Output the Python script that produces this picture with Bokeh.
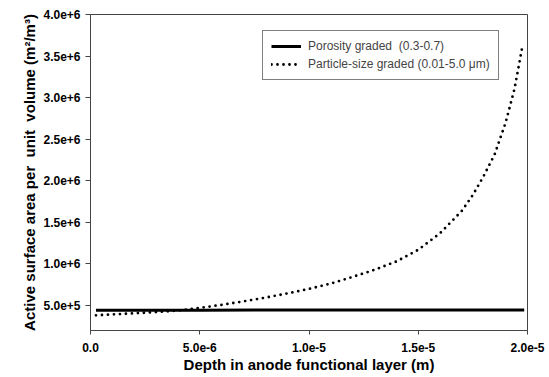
from bokeh.plotting import figure
from bokeh.models import Range1d, FixedTicker, CustomJSTickFormatter, Legend, LegendItem, Title
from bokeh.embed import file_html
from bokeh.resources import INLINE

# Depth (m) and active surface area per unit volume (m^2/m^3)
porosity_x = [0.25e-6, 5.0e-6, 10.0e-6, 15.0e-6, 19.85e-6]
porosity_y = [4.45e5, 4.45e5, 4.46e5, 4.46e5, 4.46e5]

particle_x = [0.25e-6, 1e-6, 2e-6, 3e-6, 4e-6, 5e-6, 6e-6, 7e-6, 8e-6, 9e-6,
              10e-6, 11e-6, 12e-6, 13e-6, 14e-6, 15e-6, 16e-6, 17e-6, 17.5e-6,
              18e-6, 18.5e-6, 19e-6, 19.4e-6, 19.6e-6, 19.76e-6]
particle_y = [3.83e5, 3.93e5, 4.07e5, 4.22e5, 4.40e5, 4.72e5, 5.08e5, 5.50e5, 5.95e5, 6.45e5,
              7.00e5, 7.65e5, 8.45e5, 9.30e5, 1.03e6, 1.17e6, 1.37e6, 1.64e6, 1.83e6,
              2.06e6, 2.32e6, 2.70e6, 3.10e6, 3.38e6, 3.61e6]

x_ticks = [0.0, 5.0e-6, 1.0e-5, 1.5e-5, 2.0e-5]
y_ticks = [5.0e5, 1.0e6, 1.5e6, 2.0e6, 2.5e6, 3.0e6, 3.5e6, 4.0e6]

series_labels = ["Porosity graded  (0.3-0.7)", "Particle-size graded (0.01-5.0 \u03bcm)"]
x_title = "Depth in anode functional layer (m)"
y_title = "Active surface area per\u00a0\u00a0unit\u00a0\u00a0volume (m\u00b2/m\u00b3)"

FONT = "Liberation Sans"

p = figure(width=549, height=377, output_backend="svg", toolbar_location=None,
           x_range=Range1d(0, 2.0e-5), y_range=Range1d(2.0e5, 4.0e6),
           min_border_left=90, min_border_right=22, min_border_top=14, min_border_bottom=47)
p.grid.visible = False
p.outline_line_color = "#444444"
p.outline_line_width = 1
p.background_fill_color = "white"
p.border_fill_color = "white"

r1 = p.line(porosity_x, porosity_y, line_color="black", line_width=3)
r2 = p.line(particle_x, particle_y, line_color="black", line_width=2.8,
            line_dash="0 6", line_cap="round")

fmt = CustomJSTickFormatter(code="return tick === 0 ? '0.0' : tick.toExponential(1);")
for ax, ticks in ((p.xaxis[0], x_ticks), (p.yaxis[0], y_ticks)):
    ax.ticker = FixedTicker(ticks=ticks)
    ax.formatter = fmt
    ax.minor_tick_line_color = None
    ax.major_tick_in = 0
    ax.axis_line_color = "#444444"
    ax.major_tick_line_color = "#444444"
    ax.major_label_text_font = FONT
    ax.major_label_text_font_style = "bold"
    ax.major_label_text_font_size = "12px"
    ax.major_label_text_color = "black"
    ax.axis_label_text_font = FONT
    ax.axis_label_text_font_style = "bold"
    ax.axis_label_text_font_size = "15px"
    ax.axis_label_text_color = "black"

p.xaxis.axis_label = x_title
p.xaxis.major_tick_out = 4
p.xaxis.major_label_standoff = 8
p.xaxis.axis_label_standoff = 1
p.yaxis.major_tick_out = 5
p.yaxis.major_label_standoff = 5

ytitle = Title(text=y_title, align="center", text_font=FONT, text_font_style="bold",
               text_font_size="15px", text_color="black", standoff=5, offset=0)
p.add_layout(ytitle, "left")

legend = Legend(items=[LegendItem(label=series_labels[0], renderers=[r1]),
                       LegendItem(label=series_labels[1], renderers=[r2])],
                location=(172, 250))
legend.border_line_color = "black"
legend.border_line_width = 1.5
legend.background_fill_color = "white"
legend.background_fill_alpha = 1
legend.label_text_font = FONT
legend.label_text_font_size = "12px"
legend.label_height = 14
legend.glyph_height = 14
legend.glyph_width = 30
legend.spacing = 4
legend.padding = 8
legend.margin = 0
legend.label_standoff = 7
p.add_layout(legend)

open("out.html", "w").write(file_html(p, INLINE))
